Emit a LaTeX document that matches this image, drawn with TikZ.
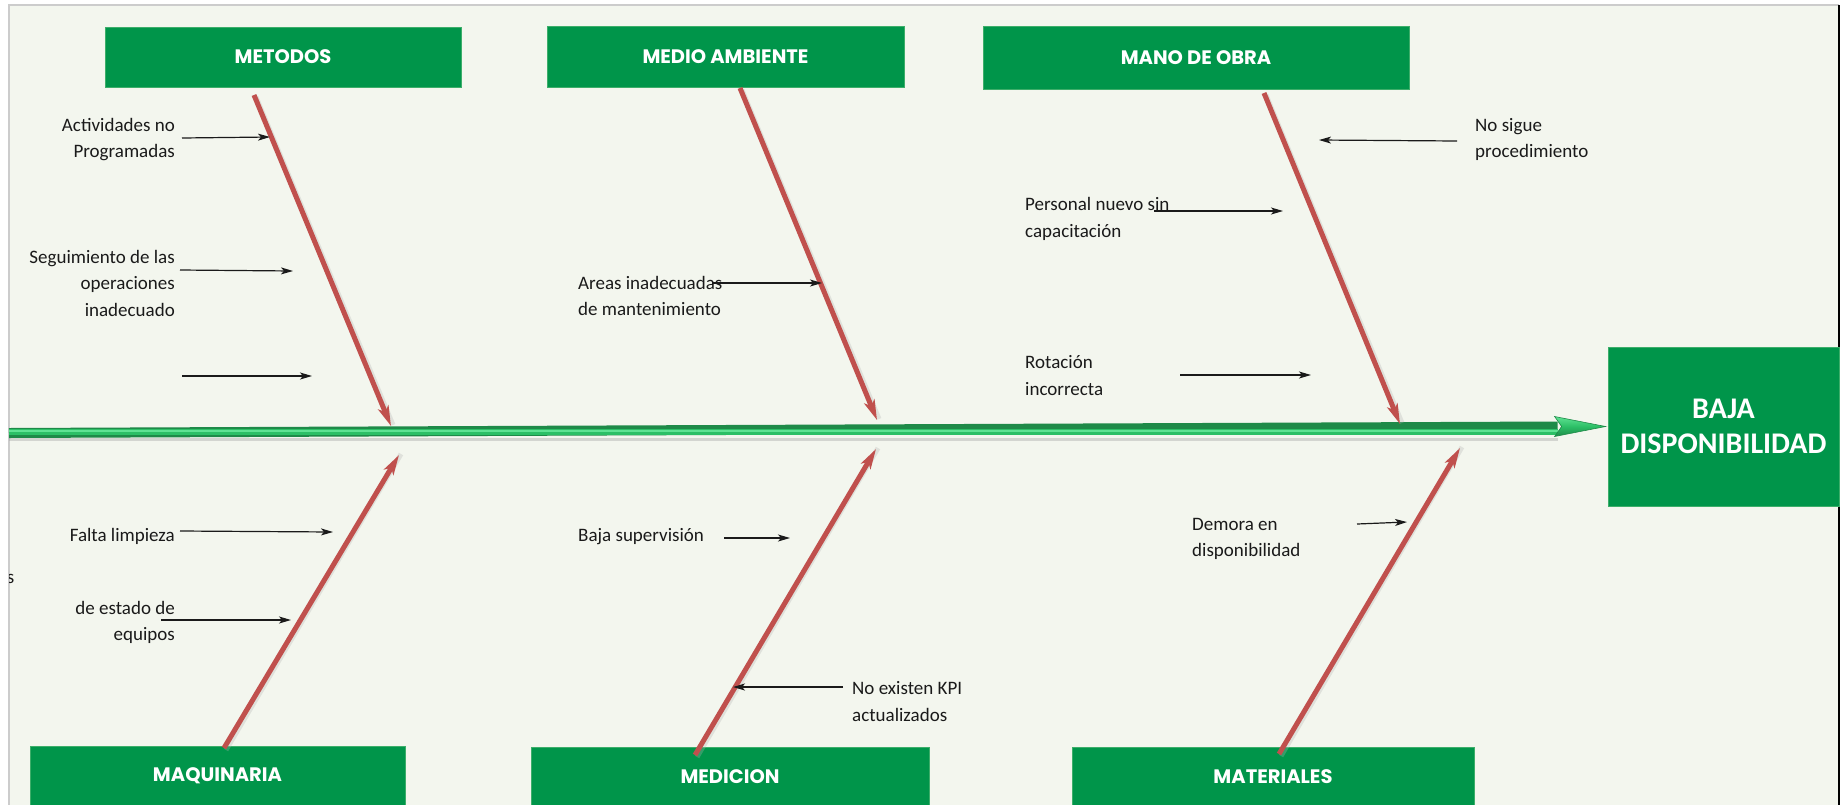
\documentclass[tikz,border=0pt]{standalone}
\usepackage{fontspec}
\setmainfont{Carlito}
\newfontfamily\boxfont{Poppins}
\usetikzlibrary{arrows.meta,calc}
\definecolor{bg}{HTML}{F3F6EE}
\definecolor{boxgreen}{HTML}{00954A}
\definecolor{boxedge}{HTML}{3DAE6A}
\definecolor{bonered}{HTML}{C0504D}
\definecolor{spinedark}{HTML}{1E8A48}
\definecolor{spinemid}{HTML}{2CBF66}
\definecolor{spinelight}{HTML}{5FE293}
\definecolor{txt}{HTML}{1A1A1A}
\tikzset{
  catbox/.style={fill=boxgreen, draw=boxedge, line width=0.8pt, text=white,
    font=\boxfont\bfseries\fontsize{19.5}{22}\selectfont, inner sep=0pt},
  effectbox/.style={fill=boxgreen, draw=boxedge, line width=0.8pt, text=white, align=center,
    font=\bfseries\fontsize{30}{35}\selectfont, inner sep=0pt},
  lbl/.style={text=txt, inner sep=0pt, font=\fontsize{19}{26.5}\selectfont},
  bone/.style={bonered, line width=5pt, -{Stealth[length=20pt, width=11pt, inset=5pt]}},
  boneshadow/.style={black!30, opacity=0.3, line width=5pt},
  cause/.style={txt, line width=1.2pt, -{Stealth[length=12pt, width=7pt, inset=3pt]}},
}
\begin{document}
\begin{tikzpicture}[x=1pt,y=-1pt]
\useasboundingbox (0,0) rectangle (1845,804);
\fill[white] (0,0) rectangle (1845,804);
% frame
\fill[bg] (9,5) rectangle (1839,810);
\draw[black!20, line width=1.2pt] (9,810) -- (9,5) -- (1839,5);
\draw[black, line width=2pt] (1839,5) -- (1839,810);

% category boxes
\node[catbox, minimum width=356pt, minimum height=60pt] (metodos) at (283,57) {METODOS};
\node[catbox, minimum width=357pt, minimum height=61pt] (medio) at (725.5,56.5) {MEDIO AMBIENTE};
\node[catbox, minimum width=426pt, minimum height=63pt] (mano) at (1196,57.5) {MANO DE OBRA};
\node[catbox, minimum width=375pt, minimum height=60pt] (maquinaria) at (217.5,776) {MAQUINARIA};
\node[catbox, minimum width=398pt, minimum height=59pt] (medicion) at (730,776.5) {MEDICION};
\node[catbox, minimum width=402pt, minimum height=59pt] (materiales) at (1273,776.5) {MATERIALES};
% effect box
\node[effectbox, minimum width=231pt, minimum height=159pt] (baja) at (1723.5,426.5) {BAJA\\DISPONIBILIDAD};

% spine
\coordinate (spL) at (9,433);
\coordinate (spH) at ($(baja.west)+(-50,0)$);
\draw[black!40, opacity=0.35, line width=3pt] (spL |- 0,439.5) -- (spH |- 0,439.5);
\draw[spinedark, line width=10pt] (spL) -- (spH);
\draw[spinemid, line width=6pt] (spL |- 0,432) -- (spH |- 0,432);
\draw[spinelight, line width=2pt] (spL |- 0,430.5) -- (spH |- 0,430.5);
\path[draw=spinedark, line width=0.6pt, top color=spinelight, bottom color=spinedark, middle color=spinemid]
  ($(spH)+(-3,-10)$) -- ($(baja.west)+(-2,0)$) -- ($(spH)+(-3,10)$) -- ($(spH)+(4,0)$) -- cycle;

% bones
\coordinate (b1s) at (254,95);   \coordinate (b1e) at (391,426);
\coordinate (b2s) at (740,88);   \coordinate (b2e) at (877,420);
\coordinate (b3s) at (1264,93);  \coordinate (b3e) at (1400,424);
\coordinate (b4s) at (224,748);  \coordinate (b4e) at (399,455);
\coordinate (b5s) at (695,755);  \coordinate (b5e) at (876,449);
\coordinate (b6s) at (1279,754); \coordinate (b6e) at (1460,448);
\foreach \b in {1,...,6}{
  \draw[boneshadow] ($(b\b s)+(2,2)$) -- ($(b\b e)+(2,-1)$);
}
\foreach \b in {1,...,6}{
  \draw[bone] (b\b s) -- (b\b e);
}

% labels
\node[lbl, anchor=east, align=right] (l1) at (175,139.5) {Actividades no\\Programadas};
\node[lbl, anchor=east, align=right] (l2) at (175,283) {Seguimiento de las\\operaciones\\inadecuado};
\node[lbl, anchor=east, align=right] (l4) at (175,536) {Falta limpieza};
\node[lbl, anchor=east, align=right] (l5) at (175,622.5) {de estado de\\equipos};
\begin{scope}
  \clip (9.6,550) rectangle (60,610);
  \node[lbl, anchor=east] (l5b) at (14.5,579) {s};
\end{scope}
\node[lbl, anchor=west, align=left] (l6) at (578,296) {Areas inadecuadas\\de mantenimiento};
\node[lbl, anchor=west, align=left] (l7) at (578,537) {Baja supervisión};
\node[lbl, anchor=west, align=left] (l8) at (852,701.5) {No existen KPI\\actualizados};
\node[lbl, anchor=west, align=left] (l9) at (1475,139.5) {No sigue\\procedimiento};
\node[lbl, anchor=west, align=left] (l10) at (1025,219) {Personal nuevo sin\\capacitación};
\node[lbl, anchor=west, align=left] (l11) at (1025,375.5) {Rotación\\incorrecta};
\node[lbl, anchor=west, align=left] (l12) at (1192,539) {Demora en\\disponibilidad};

% cause arrows
\coordinate (a1s) at (182,138);  \coordinate (a1e) at (270,137);
\coordinate (a2s) at (180,270);  \coordinate (a2e) at (293,271);
\coordinate (a3s) at (182,376);  \coordinate (a3e) at (312,376);
\coordinate (a4s) at (180,531);  \coordinate (a4e) at (333,532);
\coordinate (a5s) at (161,620);  \coordinate (a5e) at (291,620);
\coordinate (a6s) at (712,283);  \coordinate (a6e) at (822,283);
\coordinate (a7s) at (724,538);  \coordinate (a7e) at (790,538);
\coordinate (a8s) at (843,687);  \coordinate (a8e) at (733,687);
\coordinate (a9s) at (1457,141); \coordinate (a9e) at (1319,140);
\coordinate (a10s) at (1154,211); \coordinate (a10e) at (1283,211);
\coordinate (a11s) at (1180,375); \coordinate (a11e) at (1311,375);
\coordinate (a12s) at (1357,524); \coordinate (a12e) at (1407,522);
\foreach \a in {1,...,12}{
  \draw[cause] (a\a s) -- (a\a e);
}
\end{tikzpicture}
\end{document}
